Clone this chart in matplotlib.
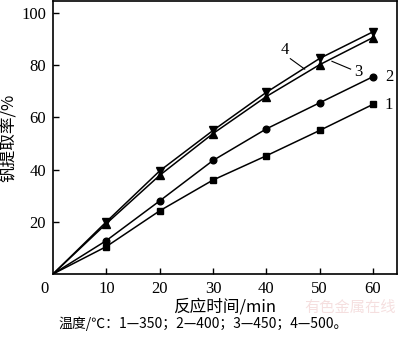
import matplotlib.pyplot as plt

# 反应时间 (min) 与钒提取率 (%)
tiempo = [0, 10, 20, 30, 40, 50, 60]
serie1 = [0, 10.5, 24.2, 36.0, 45.3, 55.0, 65.0]   # 350 ℃
serie2 = [0, 12.8, 28.0, 43.5, 55.6, 65.6, 75.6]   # 400 ℃
serie3 = [0, 19.3, 37.8, 53.8, 68.0, 80.2, 90.6]   # 450 ℃
serie4 = [0, 20.0, 39.5, 55.0, 69.6, 82.6, 92.8]   # 500 ℃
xticks = [10, 20, 30, 40, 50, 60]
yticks = [20, 40, 60, 80, 100]

plt.rcParams['font.family'] = ['Liberation Serif', 'Noto Sans CJK SC']

fig = plt.figure(figsize=(4.0, 3.37), dpi=100)
ax = fig.add_axes([0.1325, 0.187, 0.86, 0.81])

ax.plot(tiempo, serie1, '-', color='black', lw=1.1, marker='s', ms=4.2, markevery=range(1, 7))
ax.plot(tiempo, serie2, '-', color='black', lw=1.1, marker='o', ms=4.8, markevery=range(1, 7))
ax.plot(tiempo, serie3, '-', color='black', lw=1.1, marker='^', ms=5.2, markevery=range(1, 7))
ax.plot(tiempo, serie4, '-', color='black', lw=1.1, marker='v', ms=5.2, markevery=range(1, 7))

ax.set_xlim(0, 64.5)
ax.set_ylim(0, 104.6)
ax.set_xticks(xticks)
ax.set_yticks(yticks)
ax.tick_params(direction='in', length=4, width=1, labelsize=12, pad=5)
for s in ax.spines.values():
    s.set_linewidth(1.2)
ax.text(-0.8, -2.5, '0', ha='right', va='top', fontsize=12)

# 曲线标号
ax.text(43.5, 86, '4', fontsize=12, ha='center', va='center')
ax.plot([44.5, 47.2], [82.5, 78.5], color='black', lw=0.8)
ax.text(57.2, 77.5, '3', fontsize=12, ha='center', va='center')
ax.plot([52.3, 55.8], [81.5, 78.5], color='black', lw=0.8)
ax.text(63.0, 75.5, '2', fontsize=12, ha='center', va='center')
ax.text(63.0, 64.8, '1', fontsize=12, ha='center', va='center')

ax.set_xlabel('反应时间/min', fontsize=12, labelpad=1,
              family=['Noto Sans CJK SC', 'Liberation Serif'])
ax.set_ylabel('钒提取率/%', fontsize=12, labelpad=3,
              family=['Noto Sans CJK SC', 'Liberation Serif'])

fig.text(0.145, 0.04, '温度/℃：1—350；2—400；3—450；4—500。', fontsize=10,
         va='center', family=['Noto Sans CJK SC', 'Liberation Serif'])

# 水印
fig.text(0.99, 0.088, '有色金属在线', fontsize=11, color='#f3d8d8', alpha=0.8,
         ha='right', va='center', family=['Noto Sans CJK SC'], zorder=0)

fig.savefig('out.png', dpi=100)
